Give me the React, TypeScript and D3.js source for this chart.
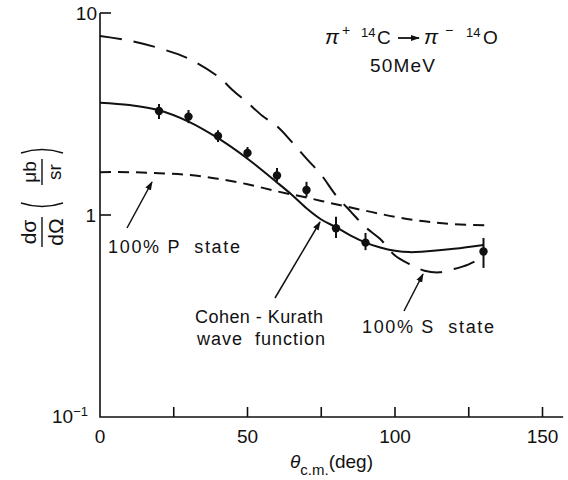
import { useRef, useEffect } from 'react';
import * as d3 from 'd3';

const W = 568;
const H = 480;

// measured points (theta c.m. in deg, dσ/dΩ in μb/sr)
const ANGLES = [20, 30, 40, 50, 60, 70, 80, 90, 130];
const SIGMA = [3.27, 3.07, 2.46, 2.03, 1.57, 1.33, 0.86, 0.73, 0.66];
const ERR_HI = [3.54, 3.31, 2.63, 2.17, 1.71, 1.46, 0.98, 0.815, 0.77];
const ERR_LO = [2.99, 2.85, 2.3, 1.92, 1.46, 1.23, 0.77, 0.67, 0.547];

// Cohen-Kurath wave function (solid)
const CK_ANG = [0, 10, 20, 30, 40, 50, 60, 65, 70, 75, 80, 85, 90, 95, 100, 105, 110, 120, 130];
const CK_VAL = [3.6, 3.5, 3.3, 2.9, 2.4, 1.9, 1.45, 1.26, 1.08, 0.95, 0.87, 0.79, 0.73, 0.69, 0.665, 0.655, 0.66, 0.68, 0.71];

// 100% S state (long dash)
const S_ANG = [0, 10, 20, 30, 40, 45, 50, 55, 60, 65, 70, 75, 80, 85, 90, 95, 100, 105, 110, 115, 120, 125, 130];
const S_VAL = [7.7, 7.3, 6.7, 5.95, 4.85, 4.15, 3.6, 3.1, 2.75, 2.3, 1.9, 1.58, 1.25, 1.04, 0.87, 0.76, 0.63, 0.57, 0.53, 0.52, 0.54, 0.57, 0.62];

// 100% P state (short dash)
const P_ANG = [0, 10, 20, 30, 40, 50, 60, 70, 80, 90, 100, 110, 120, 132];
const P_VAL = [1.63, 1.63, 1.61, 1.58, 1.51, 1.42, 1.31, 1.22, 1.13, 1.05, 0.98, 0.93, 0.9, 0.89];

const X_TICKS = [0, 50, 100, 150];
const X_MINOR = [25, 50, 75, 100, 125, 150];

const FONT = '"Liberation Sans", Arial, sans-serif';

export default function App() {
  const svgRef = useRef<SVGSVGElement>(null);

  useEffect(() => {
    const svg = d3.select(svgRef.current);
    svg.selectAll('*').remove();

    const x = d3.scaleLinear().domain([0, 150]).range([100, 542.5]);
    const y = d3.scaleLog().domain([0.1, 10]).range([417, 13]);
    const x0 = x(0);
    const yb = y(0.1);

    svg.append('rect').attr('width', W).attr('height', H).attr('fill', '#fff');

    const defs = svg.append('defs');
    defs
      .append('marker')
      .attr('id', 'ah')
      .attr('viewBox', '0 0 10 10')
      .attr('refX', 9)
      .attr('refY', 5)
      .attr('markerWidth', 9)
      .attr('markerHeight', 9)
      .attr('markerUnits', 'userSpaceOnUse')
      .attr('orient', 'auto')
      .append('path')
      .attr('d', 'M0,1.5 L10,5 L0,8.5 Z')
      .attr('fill', '#111');

    // axes
    svg
      .append('path')
      .attr('d', `M${x0},${y(10)} V${yb} H${x(157)}`)
      .attr('fill', 'none')
      .attr('stroke', '#111')
      .attr('stroke-width', 1.6);

    [10, 1].forEach((v) => {
      svg
        .append('line')
        .attr('x1', x0)
        .attr('x2', x0 + 11)
        .attr('y1', y(v))
        .attr('y2', y(v))
        .attr('stroke', '#111')
        .attr('stroke-width', 1.6);
    });
    X_MINOR.forEach((t) => {
      svg
        .append('line')
        .attr('x1', x(t))
        .attr('x2', x(t))
        .attr('y1', yb)
        .attr('y2', yb - 10)
        .attr('stroke', '#111')
        .attr('stroke-width', 1.6);
    });

    const txt = (tx: number, ty: number, s: string, size = 18, anchor = 'middle') =>
      svg
        .append('text')
        .attr('x', tx)
        .attr('y', ty)
        .attr('text-anchor', anchor)
        .attr('font-family', FONT)
        .attr('font-size', size)
        .attr('fill', '#111')
        .text(s);

    X_TICKS.forEach((t) => txt(x(t), 443, String(t), 19));

    txt(97, 20, '10', 19, 'end');
    txt(96, 222, '1', 19, 'end');
    const tm = svg
      .append('text')
      .attr('x', 88)
      .attr('y', 423)
      .attr('text-anchor', 'end')
      .attr('font-family', FONT)
      .attr('font-size', 19)
      .attr('fill', '#111');
    tm.append('tspan').text('10');
    tm.append('tspan').attr('dy', -7).attr('font-size', 13).text('−1');

    // x axis title
    const xt = svg
      .append('text')
      .attr('x', 290)
      .attr('y', 468)
      .attr('font-family', FONT)
      .attr('font-size', 19)
      .attr('fill', '#111');
    xt.append('tspan').attr('font-style', 'italic').text('θ');
    xt.append('tspan').attr('dy', 7).attr('font-size', 15).text('c.m.');
    xt.append('tspan').attr('dy', -7).text('(deg)');

    // y axis title (rotated)
    const yl = svg.append('g').attr('transform', 'translate(42,195) rotate(-90)');
    const frac = (cx: number, num: string, den: string, half: number, size: number) => {
      yl.append('line')
        .attr('x1', cx - half)
        .attr('x2', cx + half)
        .attr('y1', 0)
        .attr('y2', 0)
        .attr('stroke', '#111')
        .attr('stroke-width', 1.4);
      yl.append('text')
        .attr('x', cx)
        .attr('y', -6)
        .attr('text-anchor', 'middle')
        .attr('font-family', FONT)
        .attr('font-size', size)
        .attr('fill', '#111')
        .text(num);
      yl.append('text')
        .attr('x', cx)
        .attr('y', size)
        .attr('text-anchor', 'middle')
        .attr('font-family', FONT)
        .attr('font-size', size)
        .attr('fill', '#111')
        .text(den);
    };
    frac(-37, 'dσ', 'dΩ', 15, 21);
    frac(23, 'μb', 'sr', 13, 19);
    yl.append('path')
      .attr('d', 'M-8,-21 Q-15,0 -8,21')
      .attr('fill', 'none')
      .attr('stroke', '#111')
      .attr('stroke-width', 1.4);
    yl.append('path')
      .attr('d', 'M42,-21 Q49,0 42,21')
      .attr('fill', 'none')
      .attr('stroke', '#111')
      .attr('stroke-width', 1.4);

    // curves
    const line = d3
      .line<[number, number]>()
      .x((d) => x(d[0]))
      .y((d) => y(d[1]))
      .curve(d3.curveCatmullRom.alpha(0.5));
    const curve = (ang: number[], val: number[], dash: string | null) =>
      svg
        .append('path')
        .attr('d', line(ang.map((a, i) => [a, val[i]] as [number, number])))
        .attr('fill', 'none')
        .attr('stroke', '#111')
        .attr('stroke-width', 2)
        .attr('stroke-dasharray', dash);
    curve(S_ANG, S_VAL, '22,12');
    curve(P_ANG, P_VAL, '11,7');
    curve(CK_ANG, CK_VAL, null);

    // data points
    ANGLES.forEach((a, i) => {
      svg
        .append('line')
        .attr('x1', x(a))
        .attr('x2', x(a))
        .attr('y1', y(ERR_HI[i]))
        .attr('y2', y(ERR_LO[i]))
        .attr('stroke', '#111')
        .attr('stroke-width', 2);
      svg
        .append('circle')
        .attr('cx', x(a))
        .attr('cy', y(SIGMA[i]))
        .attr('r', 4.2)
        .attr('fill', '#111');
    });

    // reaction label, pieces placed one by one
    const piece = (px: number, py: number, s: string, size: number, italic = false) =>
      svg
        .append('text')
        .attr('x', px)
        .attr('y', py)
        .attr('font-family', FONT)
        .attr('font-size', size)
        .attr('font-style', italic ? 'italic' : 'normal')
        .attr('fill', '#111')
        .text(s);
    piece(325, 44, 'π', 21, true);
    piece(342, 35, '+', 14);
    piece(361, 37, '14', 13);
    piece(377, 44, 'C', 19);
    svg
      .append('line')
      .attr('x1', 398)
      .attr('y1', 38)
      .attr('x2', 419)
      .attr('y2', 38)
      .attr('stroke', '#111')
      .attr('stroke-width', 1.8)
      .attr('marker-end', 'url(#ah)');
    piece(424, 44, 'π', 21, true);
    piece(445, 35, '−', 14);
    piece(466, 37, '14', 13);
    piece(483, 44, 'O', 19);
    txt(370, 72, '50MeV', 19, 'start').attr('textLength', 65).attr('lengthAdjust', 'spacing');

    // annotations
    const lbl = (tx: number, ty: number, s: string, len: number) =>
      txt(tx, ty, s, 18, 'start')
        .attr('xml:space', 'preserve')
        .attr('textLength', len)
        .attr('lengthAdjust', 'spacing');
    lbl(108, 253, '100% P  state', 132);
    lbl(195, 323, 'Cohen - Kurath', 128);
    lbl(197, 345, 'wave  function', 128);
    lbl(362, 333, '100% S  state', 132);

    const arrow = (x1: number, y1: number, x2: number, y2: number) =>
      svg
        .append('line')
        .attr('x1', x1)
        .attr('y1', y1)
        .attr('x2', x2)
        .attr('y2', y2)
        .attr('stroke', '#111')
        .attr('stroke-width', 1.5)
        .attr('marker-end', 'url(#ah)');
    arrow(127, 228, 152, 182);
    arrow(275, 298, 320, 222);
    arrow(404, 311, 423, 274);
  }, []);

  return (
    <svg
      ref={svgRef}
      width={W}
      height={H}
      style={{ position: 'absolute', left: 0, top: 0 }}
    />
  );
}
